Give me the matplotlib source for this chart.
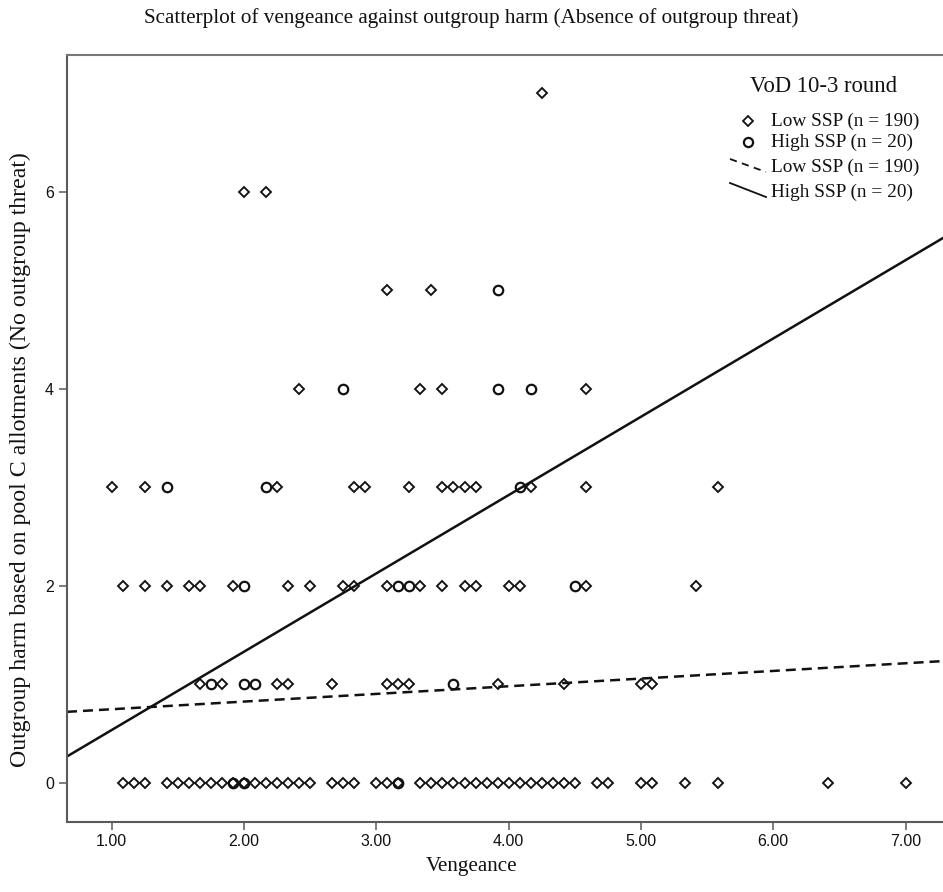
import numpy as np
import matplotlib
matplotlib.use("Agg")
import matplotlib.pyplot as plt
from matplotlib.lines import Line2D

# ---- data -----------------------------------------------------------------
# Low SSP group (diamonds): vengeance scores grouped by outgroup-harm level
low_v_h0 = [1.083, 1.167, 1.25, 1.417, 1.5, 1.583, 1.667, 1.75, 1.833, 1.917,
            2.0, 2.083, 2.167, 2.25, 2.333, 2.417, 2.5, 2.667, 2.75, 2.833,
            3.0, 3.083, 3.167, 3.333, 3.417, 3.5, 3.583, 3.667, 3.75, 3.833,
            3.917, 4.0, 4.083, 4.167, 4.25, 4.333, 4.417, 4.5, 4.667, 4.75,
            5.0, 5.083, 5.333, 5.583, 6.417, 7.0]
low_v_h1 = [1.667, 1.833, 2.25, 2.333, 2.667, 3.083, 3.167, 3.25, 3.917,
            4.417, 5.0, 5.083]
low_v_h2 = [1.083, 1.25, 1.417, 1.583, 1.667, 1.917, 2.333, 2.5, 2.75, 2.833,
            3.083, 3.333, 3.5, 3.667, 3.75, 4.0, 4.083, 4.583, 5.417]
low_v_h3 = [1.0, 1.25, 2.25, 2.833, 2.917, 3.25, 3.5, 3.583, 3.667, 3.75,
            4.167, 4.583, 5.583]
low_v_h4 = [2.417, 3.333, 3.5, 4.583]
low_v_h5 = [3.083, 3.417]
low_v_h6 = [2.0, 2.167]
low_v_h7 = [4.25]

# High SSP group (circles)
high_v_h0 = [1.917, 2.0, 3.167]
high_v_h1 = [1.75, 2.0, 2.083, 3.583]
high_v_h2 = [2.0, 3.167, 3.25, 4.5]
high_v_h3 = [1.417, 2.167, 4.083]
high_v_h4 = [2.75, 3.917, 4.167]
high_v_h5 = [3.917]

low_groups = [low_v_h0, low_v_h1, low_v_h2, low_v_h3, low_v_h4, low_v_h5,
              low_v_h6, low_v_h7]
high_groups = [high_v_h0, high_v_h1, high_v_h2, high_v_h3, high_v_h4, high_v_h5]

low_vengeance = np.concatenate(low_groups)
low_harm = np.concatenate([[h] * len(g) for h, g in enumerate(low_groups)])
high_vengeance = np.concatenate(high_groups)
high_harm = np.concatenate([[h] * len(g) for h, g in enumerate(high_groups)])

# Linear fit lines (intercept, slope)
low_fit = (0.668, 0.0778)
high_fit = (-0.26, 0.795)

x_ticks = [1, 2, 3, 4, 5, 6, 7]
x_tick_labels = ["1.00", "2.00", "3.00", "4.00", "5.00", "6.00", "7.00"]
y_ticks = [0, 2, 4, 6]
y_tick_labels = ["0", "2", "4", "6"]

title = "Scatterplot of vengeance against outgroup harm (Absence of outgroup threat)"
x_label = "Vengeance"
y_label = "Outgroup harm based on pool C allotments (No outgroup threat)"
legend_title = "VoD 10-3 round"
low_label = "Low SSP (n = 190)"
high_label = "High SSP (n = 20)"

# ---- layout ---------------------------------------------------------------
W, H = 943, 892
SERIF = "Liberation Serif"
SANS = "Liberation Sans"
INK = "#111111"
SPINE = "#5a5a5a"


def fx(px):
    return px / W


def fy(py):
    return 1 - py / H


fig = plt.figure(figsize=(W / 100, H / 100), dpi=100)
fig.patch.set_facecolor("white")
renderer = fig.canvas.get_renderer()


def fit_extent(t, size_px, vertical=False):
    bb = t.get_window_extent(renderer)
    cur = bb.height if vertical else bb.width
    t.set_fontsize(t.get_fontsize() * size_px / cur)


ax = fig.add_axes([fx(67), fy(822), fx(950) - fx(67), fy(55) - fy(822)])
ax.set_xlim(0.662, 7.336)
ax.set_ylim(-0.399, 7.388)

for side in ("left", "bottom"):
    ax.spines[side].set_color(SPINE)
    ax.spines[side].set_linewidth(1.5)
ax.spines["top"].set_color("#777777")
ax.spines["top"].set_linewidth(1.5)
ax.spines["right"].set_visible(False)

ax.set_xticks(x_ticks)
ax.set_xticklabels(x_tick_labels, family=SANS, fontsize=11.5, color=INK)
ax.set_yticks(y_ticks)
ax.set_yticklabels(y_tick_labels, family=SANS, fontsize=11.5, color=INK)
ax.tick_params(axis="both", direction="out", length=6, width=1.1,
               color=SPINE)
ax.tick_params(axis="x", pad=3)
ax.tick_params(axis="y", pad=3.5)

# fit lines
xs = np.array(ax.get_xlim())
ax.plot(xs, low_fit[0] + low_fit[1] * xs, color=INK, lw=1.8,
        linestyle=(0, (4, 2.4)), zorder=2)
ax.plot(xs, high_fit[0] + high_fit[1] * xs, color=INK, lw=1.8, zorder=2)

# points
ax.plot(low_vengeance, low_harm, linestyle="none", marker="D", ms=5.6,
        mfc="none", mec=INK, mew=1.35, zorder=3)
ax.plot(high_vengeance, high_harm, linestyle="none", marker="o", ms=6.8,
        mfc="none", mec=INK, mew=1.6, zorder=3)

# titles and axis labels
t_title = fig.text(fx(471.5), fy(18), title, family=SERIF, fontsize=14,
                   ha="center", va="center", color=INK)
fit_extent(t_title, 657)
fs = t_title.get_fontsize()
fig.text(fx(472), fy(867), x_label, family=SERIF, fontsize=fs,
         ha="center", va="center", color=INK)
t_ylab = fig.text(fx(20), fy(460), y_label, family=SERIF, fontsize=fs,
                  rotation=90, ha="center", va="center", color=INK)
fit_extent(t_ylab, 618, vertical=True)

# legend
t_leg = fig.text(fx(824), fy(87), legend_title, family=SERIF, fontsize=14,
                 ha="center", va="center", color=INK)
fit_extent(t_leg, 148)

entry_y = [121, 142, 167, 192]
entry_text = [low_label, high_label, low_label, high_label]
entries = []
for yy, s in zip(entry_y, entry_text):
    t = fig.text(fx(771), fy(yy), s, family=SERIF, fontsize=12,
                 ha="left", va="center", color=INK)
    entries.append(t)
fit_extent(entries[0], 147.7)
for t in entries[1:]:
    t.set_fontsize(entries[0].get_fontsize())

fig.add_artist(Line2D([fx(748)], [fy(121)], marker="D", ms=5.3, mfc="none",
                      mec=INK, mew=1.3, transform=fig.transFigure))
fig.add_artist(Line2D([fx(748)], [fy(142)], marker="o", ms=6.6, mfc="none",
                      mec=INK, mew=1.6, transform=fig.transFigure))
fig.add_artist(Line2D([fx(730), fx(766)], [fy(159), fy(172)], color=INK,
                      lw=1.3, linestyle=(0, (4, 3)),
                      transform=fig.transFigure))
fig.add_artist(Line2D([fx(730), fx(766)], [fy(183), fy(197)], color=INK,
                      lw=1.3, transform=fig.transFigure))

fig.savefig("out.png", dpi=100)
